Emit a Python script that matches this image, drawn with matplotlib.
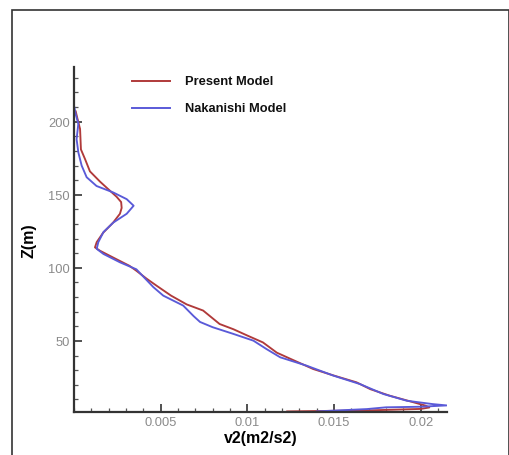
import matplotlib
matplotlib.use("Agg")
import matplotlib.pyplot as plt
from matplotlib.patches import Rectangle
from matplotlib.lines import Line2D
from matplotlib.ticker import MultipleLocator, FixedLocator

plt.rcParams['font.family'] = ['Liberation Sans', 'DejaVu Sans']

present_x = [0.0001, 0.0002, 0.00035, 0.0004, 0.00063, 0.00092, 0.0015, 0.00196, 0.00246,
             0.00272, 0.00275, 0.00265, 0.00226, 0.00168, 0.00131, 0.00121, 0.0015, 0.00227,
             0.0032, 0.0036, 0.0042, 0.0048, 0.0056, 0.0065, 0.00745, 0.0084,
             0.0092, 0.0100, 0.0109, 0.0117, 0.0125, 0.0138, 0.0150, 0.0163, 0.0171,
             0.0182, 0.0196, 0.0203, 0.0205, 0.0200, 0.0170, 0.0123]
present_z = [207, 202, 195, 181, 174.6, 166, 159, 154, 148.6,
             145, 141, 137, 131, 124, 117.6, 114, 111.7, 107,
             101.4, 98, 92.5, 87.5, 81, 75, 70.8, 61.6,
             58, 53.7, 49, 42, 37.7, 30.8, 26.3, 21.7, 17,
             12.6, 8, 5.7, 4.5, 3.5, 2.5, 1.8]

naka_x = [0.0, 0.0001, 0.00025, 0.00015, 0.00025, 0.00044, 0.00073, 0.0013, 0.00226,
          0.00304, 0.00344, 0.00304, 0.00227, 0.0017, 0.0014, 0.00131, 0.0017, 0.00265,
          0.0036, 0.0040, 0.00458, 0.00515, 0.0063, 0.0069, 0.00727, 0.0080,
          0.0092, 0.01035, 0.0111, 0.0119, 0.01342, 0.01496, 0.0165, 0.01785, 0.0192,
          0.0207, 0.0215, 0.0200, 0.0180, 0.0169, 0.0140]
naka_z = [211, 205, 198.6, 188, 179, 170, 162, 156, 151.6,
          147, 142.5, 137, 131, 124.5, 117.5, 113, 109.5, 103.8,
          99, 94, 86.8, 81, 74.2, 67, 63, 59.4,
          54.8, 50.2, 44.5, 38.8, 33.1, 26.3, 20.5, 13.7, 9.1,
          6.8, 5.9, 5.0, 4.6, 3.4, 1.8]

series_names = ["Present Model", "Nakanishi Model"]
x_ticks = [0.005, 0.01, 0.015, 0.02]
x_ticklabels = ["0.005", "0.01", "0.015", "0.02"]
y_ticks = [50, 100, 150, 200]

red = "#b03a3a"
blue = "#5a5ad8"

fig = plt.figure(figsize=(5.10, 4.56), dpi=100)
fig.add_artist(Rectangle((12/510, -0.05), (509-12)/510, (456-11)/456 + 0.05,
                         transform=fig.transFigure, fill=False, edgecolor="#333333",
                         linewidth=1.2))
ax = fig.add_axes([74/510, (456-413)/456, (447-74)/510, (413-68)/456])

ax.plot(present_x, present_z, color=red, linewidth=1.35)
ax.plot(naka_x, naka_z, color=blue, linewidth=1.35)

ax.set_xlim(0, 0.02152)
ax.set_ylim(1.4, 237.4)

for s in ["top", "right"]:
    ax.spines[s].set_visible(False)
for s in ["left", "bottom"]:
    ax.spines[s].set_linewidth(1.6)
    ax.spines[s].set_color("#333333")

ax.xaxis.set_major_locator(FixedLocator(x_ticks))
ax.set_xticklabels(x_ticklabels)
ax.xaxis.set_minor_locator(MultipleLocator(0.001))
ax.yaxis.set_major_locator(FixedLocator(y_ticks))
ax.yaxis.set_minor_locator(MultipleLocator(10))
ax.tick_params(which="major", direction="in", length=5.5, width=1.2, color="#333333",
               labelsize=9.3, labelcolor="#8a8a8a", pad=3)
ax.tick_params(which="minor", direction="in", length=3.2, width=0.9, color="#555555")

ax.set_xlabel("v2(m2/s2)", fontsize=11.5, fontweight="bold", labelpad=1)
ax.set_ylabel("Z(m)", fontsize=11.5, fontweight="bold", labelpad=8)

# legend
for yf, col, name in [((413-82)/345, red, series_names[0]), ((413-109)/345, blue, series_names[1])]:
    ax.add_line(Line2D([0.155, 0.257], [yf, yf], transform=ax.transAxes, color=col,
                       linewidth=1.4, clip_on=False))
    ax.text(0.298, yf, name, transform=ax.transAxes, fontsize=9.3, fontweight="bold",
            va="center", ha="left", color="#111111")

fig.savefig("out.png", dpi=100)
